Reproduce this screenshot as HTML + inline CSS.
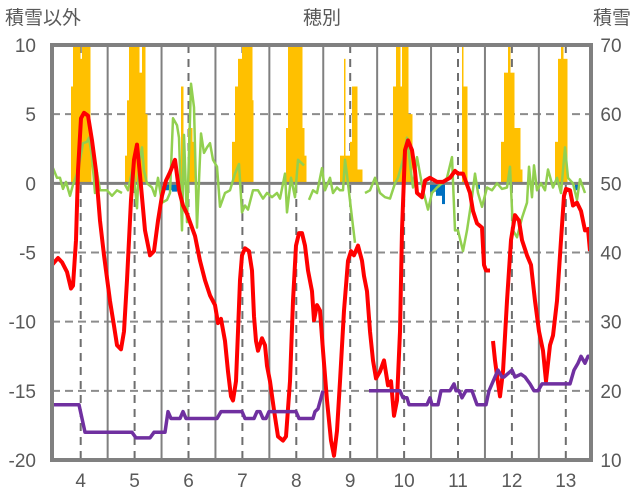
<!DOCTYPE html>
<html><head><meta charset="utf-8"><style>
html,body{margin:0;padding:0;background:#fff;}
svg{display:block;font-family:"Liberation Sans","Noto Sans CJK JP",sans-serif;}
</style></head><body>
<svg id="chart" width="636" height="501" viewBox="0 0 636 501" xmlns="http://www.w3.org/2000/svg">
<text x="5" y="24" font-size="19" fill="#595959">積雪以外</text>
<text x="322" y="24" font-size="19" fill="#595959" text-anchor="middle">穂別</text>
<text x="631" y="24" font-size="19" fill="#595959" text-anchor="end">積雪</text>
<g id="grid"></g>
<g id="marks"></g>
<g id="axes"></g>
</svg>
<script>
// x = time sample index (0..539), y left axis -20..10, right axis 10..70
const xTickDays = [4,5,6,7,8,9,10,11,12,13];
const leftTicks = [10,5,0,-5,-10,-15,-20];
const rightTicks = [70,60,50,40,30,20,10];

const redT = [0,6,10,15,19,21,24,26,29,32,36,40,44,48,52,54,58,62,65,69,72,75,79,82,85,88,93,98,102,106,110,114,118,123,127,131,135,143,148,153,158,163,166,169,173,176,179,181,184,186,188,190,193,197,200,202,204,206,210,213,215,218,222,226,231,234,238,241,244,247,250,253,256,260,262,265,268,271,275,279,282,285,288,292,296,299,302,306,310,312,315,318,321,324,328,332,336,339,342,345,348,350,353,356,360,363,365,370,373,378,385,391,398,403,406,411,418,421,425,430,432,434,438,null,441,443,445,448,451,455,459,463,467,470,475,479,483,487,491,494,498,501,505,509,512,514,518,521,525,529,533,536,538];
const redV = [-5.9,-5.4,-5.7,-6.4,-7.6,-7.4,-4.1,0.9,4.7,5.1,4.9,3.1,0.9,-2.7,-5.2,-6.3,-8.5,-10.3,-11.7,-12.0,-10.7,-7.0,-1.2,1.7,2.8,0.6,-3.4,-5.2,-4.9,-2.7,-0.9,0.2,0.8,1.7,-0.5,-1.6,-2.2,-3.8,-5.6,-7.0,-8.1,-8.8,-10.1,-9.8,-11.4,-13.6,-15.4,-15.7,-14.3,-10.7,-7.0,-5.2,-4.7,-4.9,-6.3,-9.6,-11.4,-12.1,-11.2,-11.7,-13.2,-14.3,-16.4,-18.3,-18.6,-18.3,-14.3,-8.5,-4.5,-3.6,-3.6,-4.5,-6.3,-7.8,-9.9,-8.8,-9.2,-12.1,-15.7,-18.6,-19.7,-17.9,-14.3,-9.2,-5.6,-4.9,-5.2,-4.5,-5.6,-6.7,-7.8,-10.7,-12.8,-14.1,-13.6,-12.8,-14.6,-14.3,-16.8,-15.7,-10.7,-3.4,2.4,3.1,2.4,0.9,-0.7,-1.0,0.2,0.4,0.1,0.1,0.4,0.9,0.7,0.7,-0.7,-2.0,-2.9,-3.2,-5.9,-6.3,-6.3,null,-11.4,-12.8,-13.9,-15.4,-13.6,-8.5,-4.1,-2.3,-2.7,-4.1,-5.2,-5.9,-8.5,-10.7,-12.1,-14.3,-11.7,-11.0,-8.5,-4.1,-0.9,-0.4,-0.5,-1.6,-1.4,-2.0,-3.4,-3.3,-4.9];

const purpleT = [0,27,33,80,84,98,102,113,116,119,128,131,134,165,169,190,193,202,205,208,211,214,217,244,247,261,263,266,271,null,317,348,351,355,357,375,378,380,386,389,398,402,404,407,410,414,420,425,434,437,446,450,452,460,463,469,473,478,482,486,490,492,496,518,522,526,529,533,536,539];
const purpleV = [-16,-16,-18,-18,-18.4,-18.4,-18,-18,-16.5,-17,-17,-16.5,-17,-17,-16.5,-16.5,-17,-17,-16.5,-16.5,-17,-17,-16.5,-16.5,-17,-17,-16.5,-16.3,-15,null,-15,-15,-15.5,-15.5,-16,-16,-15.5,-16,-16,-15,-15,-14.5,-15,-15,-15.5,-15,-15,-16,-16,-15,-13.5,-14,-14,-13.5,-14,-13.8,-14,-14.5,-15,-15,-14.5,-14.5,-14.5,-14.5,-13.5,-13,-12.5,-13,-12.5,-12.5];

const greenT = [1,5,8,11,14,18,21,26,31,35,37,40,43,45,48,55,60,65,70,null,73,76,81,85,87,90,92,95,100,103,106,110,115,118,121,125,127,130,132,135,139,142,145,149,152,155,158,161,165,168,173,178,183,187,190,193,196,201,206,211,215,220,225,228,233,235,239,243,246,252,null,257,261,265,270,273,278,281,285,288,291,293,295,300,303,null,313,318,323,328,333,338,343,346,351,355,358,361,365,371,376,380,385,390,395,400,403,406,411,415,420,423,426,430,435,440,445,450,455,458,461,465,470,475,477,480,482,485,489,493,496,501,505,509,513,516,521,525,528,533,536];
const greenV = [1.1,0.4,0.4,-0.4,0.1,-0.9,-0.1,0.9,2.9,3.0,3.3,1.9,-0.7,0.8,-0.5,-0.5,-0.9,-0.5,-0.7,null,-0.1,-0.5,1.2,-1.8,1.4,2.6,0.9,0,-0.3,-0.9,0.4,-1.4,-1.2,-0.7,4.7,4.2,3.3,-3.4,3.5,-2.8,7.2,5.5,-3.2,3.6,2.2,2.6,2.9,1.7,1.2,-1.7,-0.7,-0.5,0.7,1.4,-2.1,-1.6,-1.9,-0.5,-0.5,-1.1,-0.7,-1.0,-0.7,-1.1,0.7,-2.1,0.4,-1.0,1.7,1.3,null,-1.2,-0.5,-0.7,1.1,-0.5,0.4,-0.7,-0.3,-0.5,-0.5,1.7,0.6,-2.5,-4.3,null,-0.7,-0.5,0.4,-0.7,-1.0,-1.1,0,0.4,1.7,3.3,1.4,-0.3,1.9,-0.5,-1.9,-0.7,-0.3,0,0.4,1.9,-3.4,-3.4,-4.9,-3.4,-1.0,0.7,-0.7,-1.7,-0.3,-0.5,0,-0.4,-0.3,1.2,-3.4,-3.9,-2.5,-1.4,1.2,-1.0,1.3,-0.5,0,-0.5,1.0,-0.3,0.4,-0.7,2.6,0.4,0,-1.2,0.3,-0.7];

const snowStart = [19,21,28,30,36,38,73,75,77,87,90,93,129,136,140,180,183,186,190,193,200,234,236,250,252,288,292,293,298,300,303,305,341,344,348,350,356,357,410,411,449,452,456,458,462,468,503,506,509,511];
const snowEnd   = [21,28,30,36,38,39,75,77,87,90,93,95,131,140,142,183,186,190,200,201,201,236,250,252,254,292,293,298,300,303,305,310,344,348,350,356,357,360,411,415,452,456,458,462,468,470,506,509,511,515];
const snowVal   = [64,70,68,70,70,58,54,62,70,66,70,60,64,58,56,56,64,68,70,62,62,58,70,58,54,54,68,54,56,64,64,52,64,70,64,70,60,60,70,64,56,66,70,66,58,52,56,68,70,68];

const blueStart = [113,120,378,384,390,426,523];
const blueEnd   = [126,125,384,390,393,428,526];
const blueVal   = [-0.5,-0.6,-0.6,-0.9,-1.5,-0.4,-0.5];

const L=52,R=591,T=45,B=460;
const sx = t => L + t*(R-L)/539;
const sy = v => B - (v+20)*(B-T)/30;
const syR = v => B - (v-10)*(B-T)/60;
const dayX = d => sx(28.7 + (d-4)*53.9);
const NS='http://www.w3.org/2000/svg';
function mk(tag, attrs, parent){const e=document.createElementNS(NS,tag);for(const k in attrs)e.setAttribute(k,attrs[k]);parent.appendChild(e);return e;}
const grid=document.getElementById('grid'), marks=document.getElementById('marks'), axes=document.getElementById('axes');

leftTicks.forEach(v=>{
  if(v===10||v===-20||v===0) return;
  const l=mk('line',{x1:L,x2:R,y1:sy(v),y2:sy(v),stroke:'#8c8c8c','stroke-width':2,'stroke-dasharray':'8,5'},grid);
  
  
});
xTickDays.forEach(d=>{
  const x=dayX(d);
  const l=mk('line',{x1:x,x2:x,y1:T,y2:B,stroke:'#6e6e6e','stroke-width':2,'stroke-dasharray':'8,6'},grid);
  
  
  const x2=dayX(d+0.5);
  if(x2<R-3){
    const s=mk('line',{x1:x2,x2:x2,y1:T,y2:B,stroke:'#808080','stroke-width':2},grid);
    
    
  }
  const t=mk('text',{x:x,y:487,'font-size':19,fill:'#595959','text-anchor':'middle'},axes);
  t.textContent=d;
  
  
});

snowStart.forEach((s,i)=>{
  const y=syR(snowVal[i]);
  const r=mk('rect',{x:sx(s),y:y,width:sx(snowEnd[i])-sx(s)+0.5,height:syR(50)-y,fill:'#FFC000'},marks);
  
  
});
blueStart.forEach((s,i)=>{
  const r=mk('rect',{x:sx(s),y:sy(0),width:sx(blueEnd[i])-sx(s),height:sy(blueVal[i])-sy(0),fill:'#0070C0'},marks);
  
  
});
function pathOf(ts,vs){let d='',pen=false;ts.forEach((t,i)=>{if(t===null||vs[i]===null){pen=false;return;}d+=(pen?'L':'M')+sx(t).toFixed(1)+','+sy(vs[i]).toFixed(1);pen=true;});return d;}
const z=mk('line',{x1:L,x2:R,y1:sy(0),y2:sy(0),stroke:'#7f7f7f','stroke-width':3},marks);


const g=mk('path',{d:pathOf(greenT,greenV),fill:'none',stroke:'#92D050','stroke-width':2.5,'stroke-linejoin':'round'},marks);


const r=mk('path',{d:pathOf(redT,redV),fill:'none',stroke:'#FF0000','stroke-width':4,'stroke-linejoin':'round'},marks);


const p=mk('path',{d:pathOf(purpleT,purpleV),fill:'none',stroke:'#7030A0','stroke-width':3.5,'stroke-linejoin':'round'},marks);



const f=mk('rect',{x:L,y:T,width:R-L,height:B-T,fill:'none',stroke:'#808080','stroke-width':4},axes);


leftTicks.forEach(v=>{
  const t=mk('text',{x:36,y:sy(v)+7,'font-size':19,fill:'#595959','text-anchor':'end'},axes);
  t.textContent=v;
  
  
});
rightTicks.forEach(v=>{
  const t=mk('text',{x:611,y:syR(v)+7,'font-size':19,fill:'#595959','text-anchor':'middle'},axes);
  t.textContent=v;
  
  
});
</script>
</body></html>
